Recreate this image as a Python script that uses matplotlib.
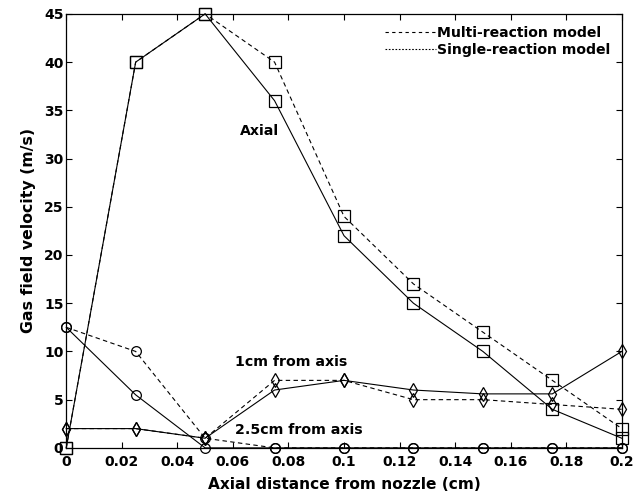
import numpy as np
import matplotlib
matplotlib.use('Agg')
from matplotlib import pyplot as plt
from matplotlib.lines import Line2D

plt.rcParams['font.family'] = ['DejaVu Sans']
plt.rcParams['font.weight'] = 'bold'

# axial distance from nozzle (cm)
x = [0, 0.025, 0.05, 0.075, 0.1, 0.125, 0.15, 0.175, 0.2]

# axial velocity (squares)
axial_multi = [0, 40, 45, 40, 24, 17, 12, 7, 2]
axial_single = [0, 40, 45, 36, 22, 15, 10, 4, 1]

# 1cm from axis (diamonds)
r1_multi = [2, 2, 1, 7, 7, 5, 5, 4.5, 4]
r1_single = [2, 2, 1, 6, 7, 6, 5.6, 5.6, 10]

# 2.5cm from axis (circles)
r25_multi = [12.5, 10, 1, 0, 0, 0, 0, 0, 0]
r25_single = [12.5, 5.5, 0, 0, 0, 0, 0, 0, 0]

xticks = [0, 0.02, 0.04, 0.06, 0.08, 0.1, 0.12, 0.14, 0.16, 0.18, 0.2]
xticklabels = ['0', '0.02', '0.04', '0.06', '0.08', '0.1', '0.12', '0.14', '0.16', '0.18', '0.2']
yticks = [0, 5, 10, 15, 20, 25, 30, 35, 40, 45]

fig = plt.figure(figsize=(6.43, 4.96), dpi=100)
ax = fig.add_axes([0.103, 0.097, 0.864, 0.875])

dash = (0, (4, 3))
mk = dict(markerfacecolor='none', markeredgecolor='black', markeredgewidth=0.9, clip_on=False)
ax.plot(x, axial_multi, ls=dash, color='black', lw=0.8, marker='s', markersize=8, **mk)
ax.plot(x, axial_single, '-', color='black', lw=0.8, marker='s', markersize=8, **mk)
ax.plot(x, r1_multi, ls=dash, color='black', lw=0.8, marker='d', markersize=7.5, **mk)
ax.plot(x, r1_single, '-', color='black', lw=0.8, marker='d', markersize=7.5, **mk)
ax.plot(x, r25_multi, ls=dash, color='black', lw=0.8, marker='o', markersize=7, **mk)
ax.plot(x, r25_single, '-', color='black', lw=0.8, marker='o', markersize=7, **mk)

ax.text(0.0625, 32.9, 'Axial', fontsize=10.2, fontweight='bold', va='center')
ax.text(0.0608, 8.9, '1cm from axis', fontsize=10.2, fontweight='bold', va='center')
ax.text(0.0608, 1.9, '2.5cm from axis', fontsize=10.2, fontweight='bold', va='center')

ax.set_xlim(0, 0.2)
ax.set_ylim(0, 45)
ax.set_xticks(xticks)
ax.set_xticklabels(xticklabels)
ax.set_yticks(yticks)
ax.tick_params(direction='in', top=True, right=True, labelsize=10, width=0.8, length=4)
ax.tick_params(axis='y', pad=2)
ax.tick_params(axis='x', pad=5)
for lab in ax.get_xticklabels() + ax.get_yticklabels():
    lab.set_fontweight('bold')
for s in ax.spines.values():
    s.set_linewidth(0.9)

ax.set_xlabel('Axial distance from nozzle (cm)', fontsize=11.1, fontweight='bold', labelpad=6)
ax.set_ylabel('Gas field velocity (m/s)', fontsize=11.3, fontweight='bold', labelpad=6)

handles = [Line2D([], [], color='black', ls=(0, (3, 3)), lw=0.8),
           Line2D([], [], color='black', ls=(0, (1.5, 1.5)), lw=0.8)]
ax.legend(handles, ['Multi-reaction model', 'Single-reaction model'], loc='upper right',
          frameon=False, handlelength=3.6, handletextpad=0.05,
          labelspacing=0.25, borderaxespad=0.45, prop={'weight': 'bold', 'size': 10.1})

fig.savefig('out.png', dpi=100)
